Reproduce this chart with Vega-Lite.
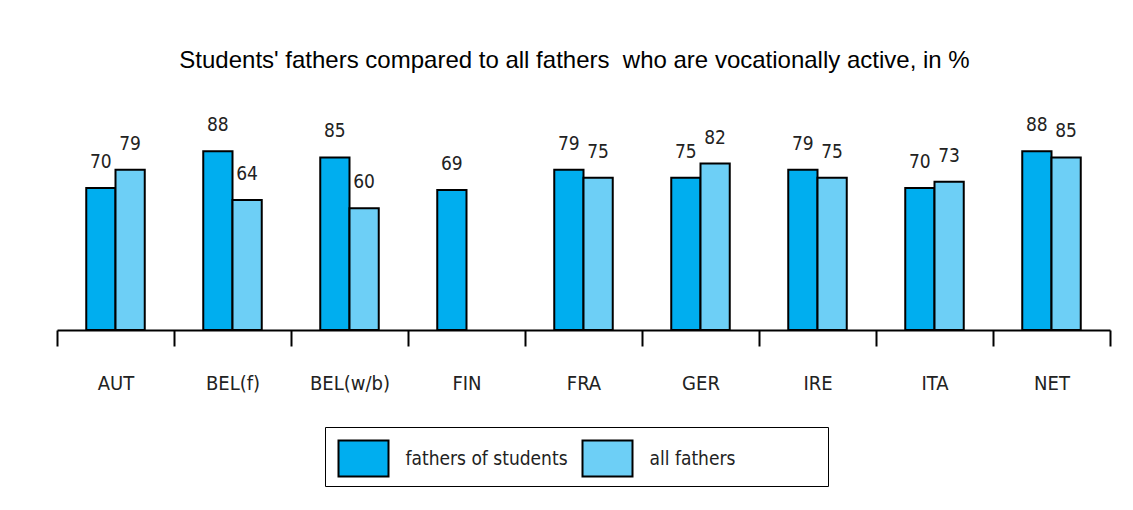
{
  "$schema": "https://vega.github.io/schema/vega-lite/v6.json",
  "width": 1053,
  "height": 203,
  "autosize": {"type": "none"},
  "padding": {"left": 57, "top": 127, "right": 23, "bottom": 180},
  "background": "white",
  "title": {
    "text": "Students' fathers compared to all fathers\u00a0 who are vocationally active, in %",
    "font": "Liberation Sans",
    "fontSize": 24,
    "fontWeight": "normal",
    "color": "black",
    "anchor": "middle",
    "dx": -9,
    "offset": 43
  },
  "config": {"view": {"stroke": null}},
  "data": {
    "values": [
      {"country": "AUT", "group": "fathers of students", "value": 70},
      {"country": "AUT", "group": "all fathers", "value": 79},
      {"country": "BEL(f)", "group": "fathers of students", "value": 88},
      {"country": "BEL(f)", "group": "all fathers", "value": 64},
      {"country": "BEL(w/b)", "group": "fathers of students", "value": 85},
      {"country": "BEL(w/b)", "group": "all fathers", "value": 60},
      {"country": "FIN", "group": "fathers of students", "value": 69},
      {"country": "FRA", "group": "fathers of students", "value": 79},
      {"country": "FRA", "group": "all fathers", "value": 75},
      {"country": "GER", "group": "fathers of students", "value": 75},
      {"country": "GER", "group": "all fathers", "value": 82},
      {"country": "IRE", "group": "fathers of students", "value": 79},
      {"country": "IRE", "group": "all fathers", "value": 75},
      {"country": "ITA", "group": "fathers of students", "value": 70},
      {"country": "ITA", "group": "all fathers", "value": 73},
      {"country": "NET", "group": "fathers of students", "value": 88},
      {"country": "NET", "group": "all fathers", "value": 85}
    ]
  },
  "encoding": {
    "x": {
      "field": "country",
      "type": "nominal",
      "sort": null,
      "scale": {"paddingInner": 0, "paddingOuter": 0},
      "axis": {
        "title": null,
        "labelAngle": 0,
        "domain": true,
        "domainColor": "black",
        "domainWidth": 2,
        "ticks": true,
        "tickColor": "black",
        "tickWidth": 2,
        "tickSize": 16,
        "tickBand": "extent",
        "labelFont": "DejaVu Sans Condensed, sans-serif",
        "labelFontSize": 20,
        "labelColor": "#222222",
        "labelPadding": 27
      }
    },
    "xOffset": {
      "field": "group",
      "type": "nominal",
      "sort": ["fathers of students", "all fathers"],
      "scale": {"paddingInner": 0, "paddingOuter": 1}
    },
    "y": {
      "field": "value",
      "type": "quantitative",
      "scale": {"domain": [0, 100]},
      "axis": null
    }
  },
  "layer": [
    {
      "mark": {"type": "bar", "stroke": "black", "strokeWidth": 2},
      "encoding": {
        "color": {
          "field": "group",
          "type": "nominal",
          "sort": ["fathers of students", "all fathers"],
          "scale": {"domain": ["fathers of students", "all fathers"], "range": ["#00AEEF", "#6DCFF6"]},
          "legend": {
            "title": null,
            "orient": "none",
            "legendX": 268,
            "legendY": 300,
            "direction": "horizontal",
            "columns": 2,
            "strokeColor": "black",
            "padding": 5.5,
            "symbolType": "M-1,-0.72H1V0.72H-1Z",
            "symbolSize": 2500,
            "symbolStrokeColor": "black",
            "symbolStrokeWidth": 2,
            "symbolOpacity": 1,
            "symbolOffset": 7,
            "labelFont": "DejaVu Sans Condensed, sans-serif",
            "labelFontSize": 19,
            "labelLimit": 400,
            "labelColor": "#222222",
            "labelOffset": 16,
            "columnPadding": 6,
            "labelExpr": "datum.label == 'all fathers' ? 'all fathers\u00a0\u00a0\u00a0\u00a0\u00a0\u00a0\u00a0\u00a0\u00a0\u00a0\u00a0\u00a0\u00a0\u00a0\u00a0\u00a0\u200b' : datum.label"
          }
        }
      }
    },
    {
      "mark": {
        "type": "text",
        "dy": -20,
        "baseline": "alphabetic",
        "font": "DejaVu Sans Condensed, sans-serif",
        "fontSize": 19,
        "color": "#222222"
      },
      "encoding": {"text": {"field": "value", "type": "quantitative"}}
    }
  ]
}
